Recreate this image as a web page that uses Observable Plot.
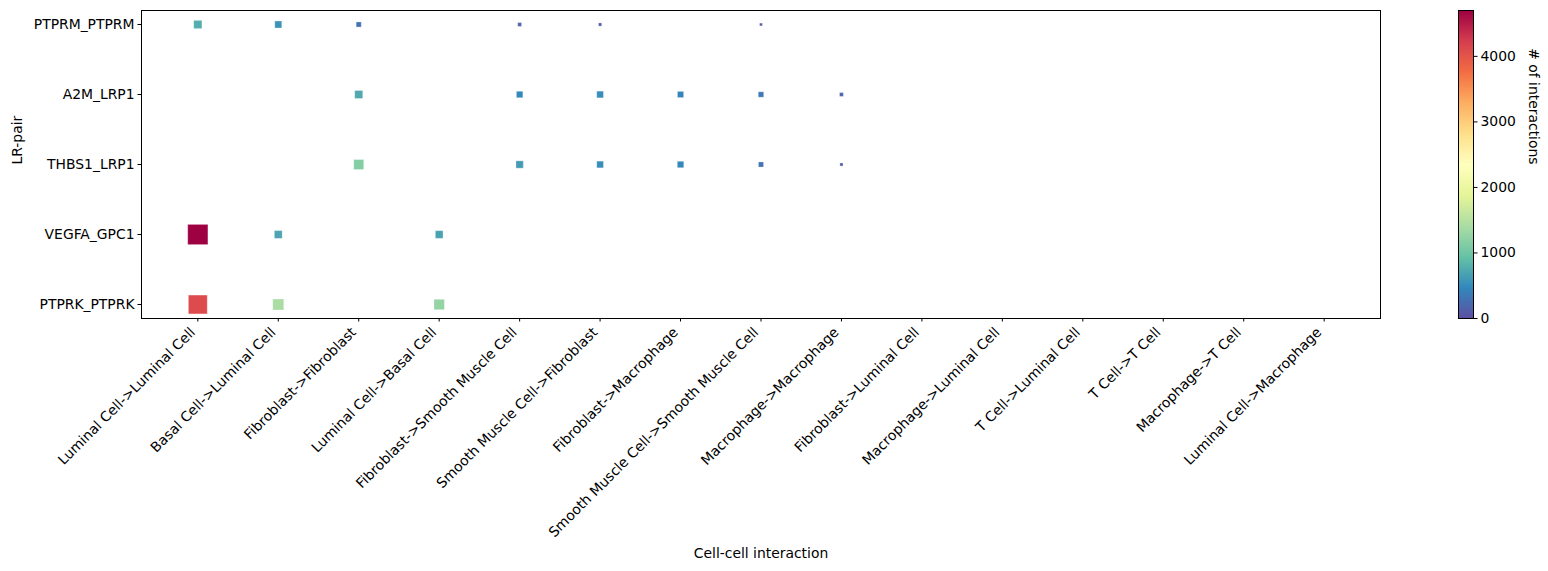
<!DOCTYPE html>
<html><head><meta charset="utf-8">
<script src="https://cdn.jsdelivr.net/npm/d3@7"></script>
<script src="https://cdn.jsdelivr.net/npm/@observablehq/plot@0.6"></script>
<style>
body{margin:0;background:#fff}
#wrap{position:relative;width:1548px;height:571px;overflow:hidden}
#cb{position:absolute;left:1440px;top:0}
#main{position:absolute;left:0;top:0}
</style>
</head><body><div id="wrap"><div id="main"></div><div id="cb"></div></div>
<script>
// Categories
const interactions = [
  "Luminal Cell->Luminal Cell", "Basal Cell->Luminal Cell", "Fibroblast->Fibroblast",
  "Luminal Cell->Basal Cell", "Fibroblast->Smooth Muscle Cell", "Smooth Muscle Cell->Fibroblast",
  "Fibroblast->Macrophage", "Smooth Muscle Cell->Smooth Muscle Cell", "Macrophage->Macrophage",
  "Fibroblast->Luminal Cell", "Macrophage->Luminal Cell", "T Cell->Luminal Cell",
  "T Cell->T Cell", "Macrophage->T Cell", "Luminal Cell->Macrophage"
];
const lrPairs = ["PTPRM_PTPRM", "A2M_LRP1", "THBS1_LRP1", "VEGFA_GPC1", "PTPRK_PTPRK"];

// # of interactions per LR pair, aligned with `interactions` (null = none)
const ptprmPtprm = [780, 560, 300, null, 170, 120, null, 90, null, null, null, null, null, null, null];
const a2mLrp1    = [null, null, 740, null, 480, 520, 440, 340, 170, null, null, null, null, null, null];
const thbs1Lrp1  = [null, null, 1150, null, 620, 520, 480, 300, 110, null, null, null, null, null, null];
const vegfaGpc1  = [4700, 700, null, 680, null, null, null, null, null, null, null, null, null, null, null];
const ptprkPtprk = [4100, 1400, null, 1250, null, null, null, null, null, null, null, null, null, null, null];

const colorbarTicks = [0, 1000, 2000, 3000, 4000];
const vmax = 4700;

const seriesByPair = {
  "PTPRM_PTPRM": ptprmPtprm, "A2M_LRP1": a2mLrp1, "THBS1_LRP1": thbs1Lrp1,
  "VEGFA_GPC1": vegfaGpc1, "PTPRK_PTPRK": ptprkPtprk
};
const rows = lrPairs.flatMap(pair => seriesByPair[pair]
  .map((v, i) => ({pair, interaction: interactions[i], value: v}))
  .filter(d => d.value != null));

// matplotlib Spectral_r (linear segments)
const spectralR = ["#5e4fa2","#3288bd","#66c2a5","#abdda4","#e6f598","#ffffbf","#fee08b","#fdae61","#f46d43","#d53e4f","#9e0142"];
const cmap = d3.piecewise(d3.interpolateRgb, spectralR);

const font = {fontFamily: "'DejaVu Sans', sans-serif", fontSize: "13.9px", color: "black", background: "white", overflow: "visible"};

const main = Plot.plot({
  width: 1548, height: 571,
  marginLeft: 141, marginRight: 168, marginTop: 10, marginBottom: 253,
  style: font,
  x: {type: "point", domain: interactions, padding: 0.7, round: false},
  y: {type: "point", domain: lrPairs, padding: 0.2, round: false},
  r: {domain: [0, vmax], range: [0, 11.4]},
  color: {domain: [0, vmax], interpolate: cmap},
  marks: [
    Plot.frame({stroke: "black", strokeWidth: 1}),
    Plot.axisX({tickSize: 3.5, tickFormat: () => "", label: null, stroke: "black"}),
    Plot.axisX({tickSize: 0, tickPadding: 11.5, tickRotate: -45, dx: -5, label: null, fill: "black"}),
    Plot.axisY({tickSize: 3.5, tickPadding: 3.5, label: null, stroke: "black", fill: "black"}),
    Plot.dot(rows, {x: "interaction", y: "pair", r: "value", fill: "value", symbol: "square", stroke: "white", strokeWidth: 0.3}),
    Plot.text(["Cell-cell interaction"], {text: d => d, frameAnchor: "bottom", dy: 235, lineAnchor: "middle", fill: "black"}),
    Plot.text(["LR-pair"], {text: d => d, frameAnchor: "left", rotate: -90, dx: -124, fill: "black"})
  ]
});
document.getElementById("main").append(main);

const cb = Plot.plot({
  width: 108, height: 571,
  marginLeft: 18, marginRight: 75, marginTop: 10, marginBottom: 253,
  style: font,
  x: {domain: [0, 1], axis: null},
  y: {domain: [0, vmax], axis: null},
  color: {domain: [0, vmax], interpolate: cmap},
  marks: [
    Plot.raster({x1: 0, x2: 1, y1: 0, y2: vmax, fill: (x, y) => y, width: 1, height: 400}),
    Plot.frame({stroke: "black", strokeWidth: 1}),
    Plot.axisY(colorbarTicks, {anchor: "right", tickSize: 3.5, tickPadding: 3.5, tickFormat: d => String(d), label: null, stroke: "black", fill: "black"}),
    Plot.text(["# of interactions"], {text: d => d, frameAnchor: "right", rotate: 90, dx: 60, fill: "black"})
  ]
});
document.getElementById("cb").append(cb);
</script>
</body></html>
